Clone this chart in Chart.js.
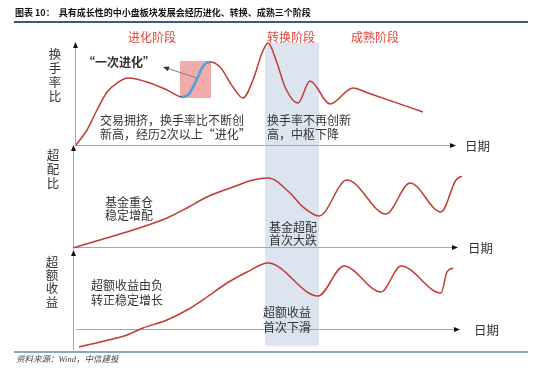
<!DOCTYPE html>
<html>
<head>
<meta charset="utf-8">
<script src="https://cdn.jsdelivr.net/npm/chart.js@4"></script>
<style>
  html, body { margin: 0; padding: 0; background: #fff; }
</style>
</head>
<body>
<canvas id="stageChart" width="550" height="371"></canvas>
<script>
// 横轴 = 日期（任意单位），三个面板各有一条纵轴
const phaseNames = ["进化阶段", "转换阶段", "成熟阶段"];
const phaseTurn = [190, 244];      // 转换阶段的日期区间
const evolveRange = [107, 135];    // “一次进化”所在区间

// 换手率比
const turnoverX = [1, 12, 22, 32, 42, 53, 75, 92, 107, 113, 117, 122, 127, 131, 135, 145, 158, 168, 178, 187, 193, 202, 210, 223, 235, 255, 278, 293, 348];
const turnoverY = [0, 15, 35, 53, 62, 67, 62, 55, 48, 50, 56, 66, 77, 82, 83, 78, 58, 47, 65, 92, 102, 82, 58, 42, 64, 41, 57, 52, 33];

// 超配比
const overweightX = [-2, 25, 58, 92, 112, 132, 158, 178, 193, 215, 228, 244, 272, 311, 335, 366, 381, 387];
const overweightY = [-1, 7, 17, 29, 39, 50, 60, 67, 69, 54, 40, 31, 67, 33, 64, 35, 67, 71];

// 超额收益
const excessX = [4, 25, 52, 68, 92, 112, 132, 152, 172, 193, 243, 269, 306, 326, 366, 372, 378];
const excessY = [-18, -13, -6, 1, 9, 19, 32, 46, 57, 66, 33, 63, 37, 63, 36, 57, 61];

const RED = "#C23B33";
const BLUE = "#4BA5DE";
const TXT = "#333333";
const FONT = "'Noto Sans CJK SC', 'Noto Sans', sans-serif";

const pts = (xs, ys) => xs.map((x, i) => ({ x: x, y: ys[i] }));
const turnoverPts = pts(turnoverX, turnoverY);
const evolvePts = turnoverPts.filter(p => p.x >= evolveRange[0] && p.x <= evolveRange[1]);

function curve(data, axis, color, width, order) {
  return {
    data: data,
    yAxisID: axis,
    borderColor: color,
    borderWidth: width,
    pointRadius: 0,
    fill: false,
    cubicInterpolationMode: "monotone",
    order: order
  };
}

function arrowHead(ctx, x, y, dir) {
  ctx.fillStyle = "#111";
  ctx.beginPath();
  if (dir === "up") {
    ctx.moveTo(x, y); ctx.lineTo(x - 2.5, y + 6); ctx.lineTo(x + 2.5, y + 6);
  } else {
    ctx.moveTo(x, y); ctx.lineTo(x - 6, y - 2.5); ctx.lineTo(x - 6, y + 2.5);
  }
  ctx.closePath();
  ctx.fill();
}

// 每个面板的坐标轴：纵轴位置、顶端、底端，横轴末端（均为数据单位）
const panelAxes = [
  { id: "y1", x0: 0, top: 103, bottom: 0, xEnd: 381, label: "日期", lx: 465 },
  { id: "y2", x0: -2, top: 102, bottom: 0, xEnd: 383, label: "日期", lx: 468 },
  { id: "y3", x0: -2, top: 79, bottom: -21, xEnd: 385, label: "日期", lx: 474, xStart: 1 }
];

const notes = [
  { t: phaseNames[0], x: 152, y: 37, c: "#E0463D", a: "center" },
  { t: phaseNames[1], x: 291, y: 37, c: "#E0463D", a: "center" },
  { t: phaseNames[2], x: 375, y: 37, c: "#E0463D", a: "center" },
  { t: "“一次进化”", x: 83, y: 62, b: true },
  { t: "交易拥挤，换手率比不断创", x: 100, y: 120 },
  { t: "新高，经历2次以上“进化”", x: 100, y: 134 },
  { t: "换手率不再创新", x: 267, y: 120 },
  { t: "高，中枢下降", x: 267, y: 134 },
  { t: "基金重仓", x: 105, y: 202 },
  { t: "稳定增配", x: 105, y: 215 },
  { t: "基金超配", x: 269, y: 227 },
  { t: "首次大跌", x: 269, y: 240 },
  { t: "超额收益由负", x: 91, y: 285 },
  { t: "转正稳定增长", x: 91, y: 300 },
  { t: "超额收益", x: 263, y: 312 },
  { t: "首次下滑", x: 263, y: 327 }
];

const yLabels = [
  { t: "换手率比", x: 55, y: 54, step: 14 },
  { t: "超配比", x: 53, y: 155, step: 14 },
  { t: "超额收益", x: 52, y: 262, step: 13.3 }
];

const diagram = {
  id: "diagram",
  beforeDatasetsDraw(chart) {
    const ctx = chart.ctx;
    const xs = chart.scales.x;
    const y1 = chart.scales.y1;
    ctx.save();
    // 转换阶段背景
    const bx0 = xs.getPixelForValue(phaseTurn[0]);
    const bx1 = xs.getPixelForValue(phaseTurn[1]);
    ctx.fillStyle = "#DCE4F0";
    ctx.fillRect(bx0, 43, bx1 - bx0, 303);
    // “一次进化”方框
    const ex = evolvePts.map(p => p.x), ey = evolvePts.map(p => p.y);
    const px0 = xs.getPixelForValue(Math.min(...ex)) - 2;
    const px1 = xs.getPixelForValue(Math.max(...ex)) + 1;
    const py0 = y1.getPixelForValue(Math.max(...ey)) - 1;
    const py1 = y1.getPixelForValue(Math.min(...ey)) + 1;
    ctx.fillStyle = "#F2ABAB";
    ctx.fillRect(px0, py0, px1 - px0, py1 - py0);
    // 坐标轴
    ctx.strokeStyle = "#A6A6A6";
    ctx.lineWidth = 1;
    panelAxes.forEach(ax => {
      const sy = chart.scales[ax.id];
      const ax0 = Math.round(xs.getPixelForValue(ax.x0)) + 0.5;
      const ay0 = Math.round(sy.getPixelForValue(0)) + 0.5;
      const top = sy.getPixelForValue(ax.top);
      const bot = sy.getPixelForValue(ax.bottom);
      const xEnd = xs.getPixelForValue(ax.xEnd);
      const xStart = xs.getPixelForValue(ax.xStart !== undefined ? ax.xStart : ax.x0);
      ctx.beginPath();
      ctx.moveTo(ax0, bot); ctx.lineTo(ax0, top + 4);
      ctx.moveTo(xStart, ay0); ctx.lineTo(xEnd - 4, ay0);
      ctx.stroke();
      arrowHead(ctx, ax0, top, "up");
      arrowHead(ctx, xEnd, ay0, "right");
    });
    ctx.restore();
  },
  afterDatasetsDraw(chart) {
    const ctx = chart.ctx;
    const xs = chart.scales.x;
    const y1 = chart.scales.y1;
    ctx.save();
    // 指向“一次进化”的箭头
    const mid = evolvePts[Math.floor(evolvePts.length / 2)];
    const tx = xs.getPixelForValue(mid.x), ty = y1.getPixelForValue(mid.y) - 1;
    const hx = 163, hy = 67;
    ctx.strokeStyle = "#7F7F7F";
    ctx.lineWidth = 1;
    ctx.beginPath();
    ctx.moveTo(tx, ty); ctx.lineTo(hx + 4, hy + 1.2);
    ctx.stroke();
    const ang = Math.atan2(hy - ty, hx - tx);
    ctx.fillStyle = "#333";
    ctx.beginPath();
    ctx.moveTo(hx, hy);
    ctx.lineTo(hx - 6 * Math.cos(ang) + 2.5 * Math.sin(ang), hy - 6 * Math.sin(ang) - 2.5 * Math.cos(ang));
    ctx.lineTo(hx - 6 * Math.cos(ang) - 2.5 * Math.sin(ang), hy - 6 * Math.sin(ang) + 2.5 * Math.cos(ang));
    ctx.closePath();
    ctx.fill();

    ctx.textBaseline = "middle";
    notes.forEach(n => {
      ctx.font = (n.b ? "bold " : "") + "12px " + FONT;
      ctx.fillStyle = n.c || TXT;
      ctx.textAlign = n.a || "left";
      ctx.fillText(n.t, n.x, n.y);
    });
    ctx.font = "12.5px " + FONT;
    ctx.fillStyle = TXT;
    ctx.textAlign = "center";
    yLabels.forEach(l => {
      [...l.t].forEach((ch, i) => ctx.fillText(ch, l.x, l.y + i * l.step));
    });
    ctx.textAlign = "left";
    panelAxes.forEach(ax => {
      const ay = chart.scales[ax.id].getPixelForValue(0);
      ctx.fillText(ax.label, ax.lx, ay + 1);
    });

    // 标题与来源
    ctx.font = "bold 9px " + FONT;
    ctx.fillStyle = "#111";
    ctx.fillText("图表 10：  具有成长性的中小盘板块发展会经历进化、转换、成熟三个阶段", 15, 13);
    ctx.fillStyle = "#2F5D8F";
    ctx.fillRect(14, 21, 514, 2);
    ctx.fillStyle = "#8AA5C4";
    ctx.fillRect(14, 351, 514, 2);
    ctx.font = "italic 8.5px 'Liberation Serif', " + FONT;
    ctx.fillStyle = "#444";
    ctx.fillText("资料来源：Wind，中信建投", 16, 360);
    ctx.restore();
  }
};

new Chart(document.getElementById("stageChart"), {
  type: "line",
  data: {
    datasets: [
      curve(evolvePts, "y1", BLUE, 2.6, 0),
      curve(turnoverPts, "y1", RED, 1.5, 1),
      curve(pts(overweightX, overweightY), "y2", RED, 1.5, 1),
      curve(pts(excessX, excessY), "y3", RED, 1.5, 1)
    ]
  },
  options: {
    responsive: false,
    animation: false,
    events: [],
    layout: { padding: 0 },
    plugins: { legend: { display: false }, tooltip: { enabled: false } },
    scales: {
      x: { type: "linear", min: -75, max: 475, display: false },
      y1: { type: "linear", min: -226, max: 145, display: false },
      y2: { type: "linear", min: -124, max: 247, display: false },
      y3: { type: "linear", min: -42, max: 329, display: false }
    }
  },
  plugins: [diagram]
});
</script>
</body>
</html>
